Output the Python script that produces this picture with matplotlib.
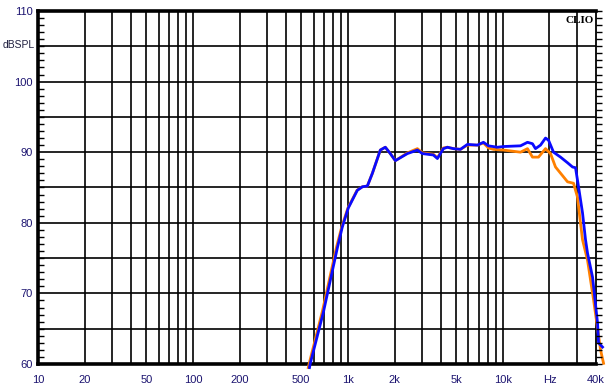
import numpy as np
import matplotlib.pyplot as plt
from matplotlib.ticker import FixedLocator, MultipleLocator, NullFormatter

# frequency response data (Hz, dB SPL)
freq_blue = [565, 572, 694, 854, 920, 1006, 1150, 1239, 1335, 1438, 1619, 1744,
             1878, 2024, 2420, 2808, 3024, 3562, 3781, 4134, 4386, 4797, 5323,
             5906, 6855, 7494, 8072, 9228, 10090, 13000, 14420, 15530, 16240,
             17500, 18850, 19710, 21230, 23560, 26150, 28160, 29440, 30790,
             32670, 34160, 35190, 37920, 40840, 41460, 43990]
spl_blue = [59.5, 60.1, 67.3, 76.4, 79.4, 82.1, 84.6, 85.1, 85.2, 87.0, 90.3, 90.7,
            89.8, 88.8, 89.8, 90.3, 89.8, 89.6, 89.1, 90.5, 90.7, 90.5, 90.4,
            91.1, 91.0, 91.4, 90.9, 90.7, 90.8, 90.9, 91.4, 91.2, 90.5,
            91.0, 92.0, 91.7, 90.0, 89.3, 88.5, 87.9, 87.8, 85.1,
            81.4, 77.6, 75.7, 72.3, 65.8, 63.0, 62.4]

freq_orange = [555, 563, 685, 845, 912, 1000, 1145, 1239, 1335, 1438, 1619, 1744,
               1878, 2024, 2420, 2808, 3024, 3562, 3781, 4134, 4386, 4797, 5323,
               5906, 6855, 7494, 8072, 8696, 10090, 13000, 14420, 15530, 16980,
               18850, 20300, 21870, 24640, 26150, 28580, 30340, 31720, 32670,
               35190, 38490, 42710, 44660]
spl_orange = [59.5, 60.1, 67.5, 76.6, 79.4, 82.1, 84.6, 85.1, 85.2, 87.0, 90.3, 90.7,
              89.8, 88.8, 89.9, 90.5, 89.9, 89.7, 89.2, 90.6, 90.7, 90.5, 90.4,
              91.0, 91.0, 91.3, 90.6, 90.4, 90.3, 90.0, 90.5, 89.3, 89.3,
              90.5, 89.8, 87.9, 86.5, 85.8, 85.6, 83.6, 79.9, 77.6,
              74.7, 69.1, 62.0, 60.1]

x_ticks = [10, 20, 50, 100, 200, 500, 1000, 2000, 5000, 10000, 20000, 40000]
x_labels = ['10', '20', '50', '100', '200', '500', '1k', '2k', '5k', '10k', 'Hz', '40k']
y_ticks = [60, 70, 80, 90, 100, 110]

grid_x = [20, 30, 40, 50, 60, 70, 80, 90, 100, 200, 300, 400, 500, 600, 700, 800,
          900, 1000, 2000, 3000, 4000, 5000, 6000, 7000, 8000, 9000, 10000,
          20000, 30000]
grid_y = [65, 70, 75, 80, 85, 90, 95, 100, 105]

lab_col = '#1c1470'

fig = plt.figure(figsize=(6.13, 3.91), dpi=100)
ax = fig.add_axes([0.062, 0.069, 0.9105, 0.903])
ax.set_xscale('log')
ax.set_xlim(10, 40000)
ax.set_ylim(60, 110)

for g in grid_x:
    ax.axvline(g, color='black', lw=1.2, zorder=1)
for g in grid_y:
    ax.axhline(g, color='black', lw=1.2, zorder=1)

ax.plot(freq_orange, spl_orange, color='#ff8000', lw=2.0, zorder=3, clip_on=False)
ax.plot(freq_blue, spl_blue, color='#0a0aff', lw=2.0, zorder=4, clip_on=False)
ax.set_ylim(60, 110)

ax.xaxis.set_major_locator(FixedLocator(x_ticks))
ax.xaxis.set_minor_locator(FixedLocator([]))
ax.set_xticklabels(x_labels)
ax.xaxis.set_minor_formatter(NullFormatter())
ax.set_yticks(y_ticks)
ax.yaxis.set_minor_locator(MultipleLocator(1))
ax.tick_params(axis='both', which='major', length=0, labelsize=8,
               labelcolor=lab_col, pad=4, labelfontfamily='Liberation Sans')
ax.tick_params(axis='x', which='major', pad=8)
ax.tick_params(axis='y', which='minor', direction='in', length=4, width=1,
               left=True, right=False)

for s in ['left', 'bottom', 'top']:
    ax.spines[s].set_linewidth(2.6)
ax.spines['right'].set_linewidth(1.3)

ax2 = ax.twinx()
ax2.set_ylim(60, 110)
ax2.set_yticks([])
ax2.yaxis.set_minor_locator(MultipleLocator(1))
ax2.yaxis.set_minor_formatter(NullFormatter())
ax2.tick_params(axis='y', which='minor', direction='out', length=4, width=1)
for s in ax2.spines.values():
    s.set_visible(False)

fig.text(0.005, 0.885, 'dBSPL', fontsize=7.5, color='#202040',
         family='Liberation Sans', va='center', ha='left')
ax.text(0.996, 0.985, 'CLIO', transform=ax.transAxes, fontsize=8,
        fontweight='bold', family='Liberation Serif', ha='right', va='top',
        zorder=5)

fig.savefig('out.png', dpi=100)
